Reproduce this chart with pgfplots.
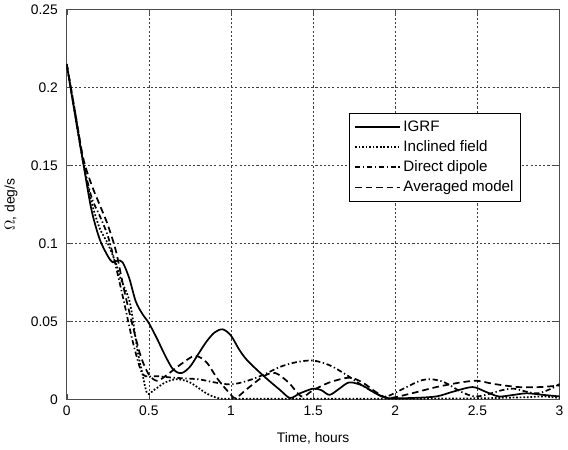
\documentclass[border=0pt]{standalone}
\usepackage{fontspec}
\setmainfont{Liberation Sans}
\usepackage{pgfplots}
\pgfplotsset{compat=1.18}
\begin{document}
\fontsize{10.5}{12.5}\selectfont
\begin{tikzpicture}
\begin{axis}[
  scale only axis,
  width=374pt, height=296pt,
  xmin=0, xmax=3, ymin=0, ymax=0.25,
  xtick={0,0.5,1,1.5,2,2.5,3},
  ytick={0,0.05,0.1,0.15,0.2,0.25},
  yticklabels={0,0.05,0.1,0.15,0.2,0.25},
  xticklabels={0,0.5,1,1.5,2,2.5,3},
  /pgf/number format/assume math mode=true,
  tick label style={font=\fontsize{10.5}{12}\selectfont},
  yticklabel style={xshift=-3pt},
  xticklabel style={yshift=-1pt},
  label style={font=\fontsize{10.5}{12}\selectfont},
  xlabel={Time, hours},
  ylabel={$\Omega$, deg/s},
  xlabel style={yshift=-6pt},
  ylabel style={yshift=3pt},
  grid=major,
  major grid style={black!75, line width=0.4pt, dash pattern=on 1.6pt off 1.6pt},
  axis line style={black!70, line width=0.6pt},
  tick style={black!70},
  major tick length=4pt,
  legend cell align=left,
  legend style={at={(rel axis cs:0.573,0.735)}, anchor=north west,
    draw=black, line width=0.6pt, font=\fontsize{11.5}{13.5}\selectfont,
    row sep=1.5pt, inner sep=3.5pt},
  legend image code/.code={\draw[#1] (0cm,0cm) -- (1.2cm,0cm);},
  every axis plot/.append style={black, line width=1.3pt, smooth, tension=0.5},
]
% IGRF
\addplot[solid] coordinates {
(0,0.215)(0.05,0.183)(0.1,0.152)(0.15,0.122)(0.2,0.103)(0.25,0.092)(0.28,0.088)
(0.31,0.089)(0.34,0.088)(0.38,0.078)(0.42,0.063)(0.46,0.055)(0.5,0.049)(0.55,0.039)
(0.6,0.028)(0.65,0.019)(0.7,0.017)(0.75,0.021)(0.8,0.029)(0.85,0.037)(0.9,0.043)
(0.95,0.045)(1.0,0.041)(1.05,0.032)(1.1,0.025)(1.2,0.015)(1.3,0.006)(1.36,0.001)
(1.42,0.004)(1.5,0.007)(1.55,0.006)(1.6,0.003)(1.66,0.007)(1.72,0.011)(1.8,0.009)
(1.88,0.004)(1.95,0.001)(2.1,0.001)(2.25,0.002)(2.35,0.005)(2.47,0.008)(2.55,0.005)
(2.63,0.002)(2.72,0.003)(2.8,0.004)(2.9,0.003)(3,0.002)
};
\addlegendentry{IGRF}
% Inclined field
\addplot[dash pattern=on 1.3pt off 1.4pt] coordinates {
(0,0.215)(0.05,0.183)(0.1,0.152)(0.15,0.127)(0.2,0.11)(0.25,0.1)(0.3,0.087)
(0.33,0.077)(0.385,0.062)(0.43,0.032)(0.46,0.017)(0.49,0.004)(0.53,0.006)(0.6,0.011)
(0.67,0.013)(0.75,0.011)(0.85,0.004)(0.92,0.001)(1.0,0.0005)(1.5,0.0005)(2.0,0.0005)
(2.5,0.0008)(2.8,0.0015)(2.9,0.002)(3,0.001)
};
\addlegendentry{Inclined field}
% Direct dipole
\addplot[dash pattern=on 4pt off 2pt on 1pt off 2pt] coordinates {
(0,0.215)(0.05,0.185)(0.1,0.153)(0.15,0.13)(0.2,0.118)(0.25,0.105)(0.3,0.085)
(0.35,0.062)(0.4,0.038)(0.45,0.019)(0.48,0.015)(0.55,0.015)(0.65,0.014)(0.8,0.013)
(0.9,0.011)(1.0,0.0097)(1.1,0.012)(1.2,0.016)(1.3,0.021)(1.4,0.024)(1.5,0.025)
(1.6,0.022)(1.7,0.016)(1.8,0.009)(1.9,0.003)(1.95,0.002)(2.05,0.007)(2.15,0.012)
(2.22,0.013)(2.3,0.011)(2.4,0.005)(2.48,0.002)(2.55,0.003)(2.65,0.006)(2.72,0.007)
(2.8,0.005)(2.87,0.004)(2.95,0.007)(3.0,0.01)
};
\addlegendentry{Direct dipole}
% Averaged model
\addplot[dash pattern=on 5pt off 3pt] coordinates {
(0,0.215)(0.05,0.185)(0.1,0.155)(0.15,0.138)(0.2,0.125)(0.25,0.112)(0.3,0.095)
(0.35,0.07)(0.4,0.048)(0.45,0.028)(0.5,0.016)(0.55,0.012)(0.6,0.015)(0.7,0.023)
(0.78,0.028)(0.85,0.024)(0.92,0.013)(1.0,0.003)(1.03,0.001)(1.1,0.007)(1.2,0.015)
(1.27,0.017)(1.35,0.011)(1.43,0.002)(1.5,0.006)(1.6,0.011)(1.72,0.014)(1.8,0.011)
(1.88,0.005)(1.96,0.001)(2.1,0.004)(2.25,0.008)(2.4,0.011)(2.5,0.012)(2.6,0.01)
(2.75,0.008)(2.88,0.008)(3,0.009)
};
\addlegendentry{Averaged model}
\end{axis}
\end{tikzpicture}
\end{document}
